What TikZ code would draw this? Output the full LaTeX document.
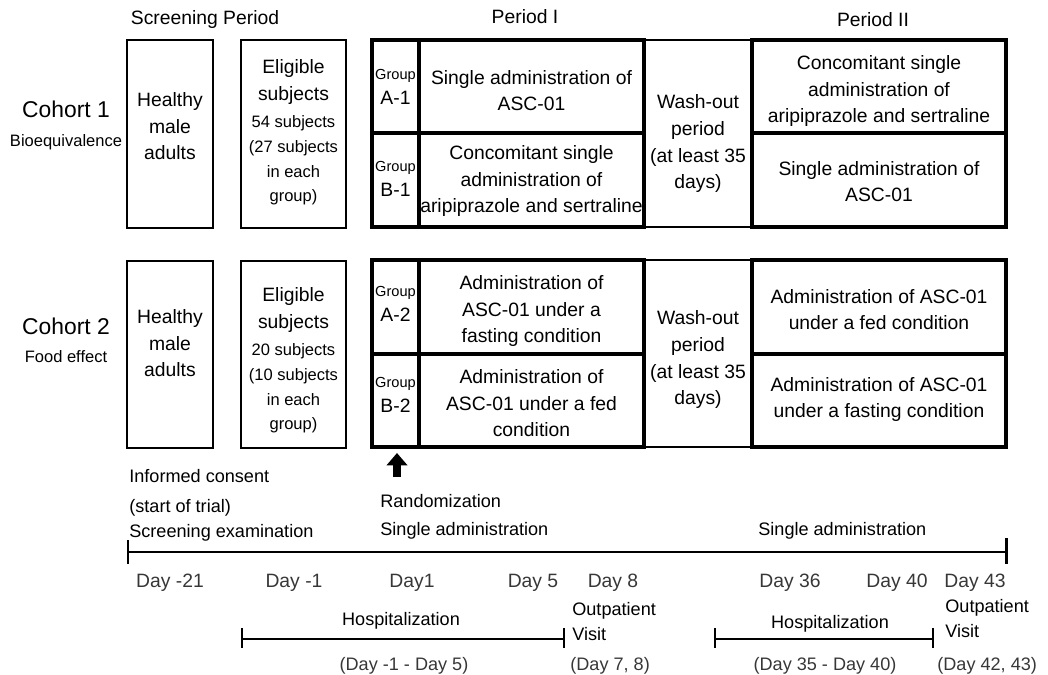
\documentclass[tikz,border=0pt]{standalone}
\usepackage{fontspec}
\setmainfont{Liberation Sans}
\usetikzlibrary{fit}
\usetikzlibrary{arrows.meta}
\definecolor{ColLine}{RGB}{0,0,0}
\definecolor{ColDay}{RGB}{55,55,55}
\newcommand{\FontMain}{\fontsize{11}{15.3}\selectfont}
\newcommand{\FontLow}{\fontsize{10.3}{14}\selectfont}
\newcommand{\FontSmall}{\fontsize{9.4}{14}\selectfont}
\newcommand{\FontTiny}{\fontsize{8.3}{10}\selectfont}
\newcommand{\FontCohort}{\fontsize{13}{15}\selectfont}
\tikzstyle{BoxThin}=[draw=ColLine,line width=0.85pt,inner sep=0pt]
\tikzstyle{BoxThick}=[BoxThin,line width=1.8pt]
\tikzstyle{BoxText}=[inner sep=0pt,align=center,font=\FontMain,anchor=base]
\tikzstyle{TextLab}=[inner sep=0pt,font=\FontMain]
\tikzstyle{LowLab}=[inner sep=0pt,font=\FontLow,anchor=base west]
\tikzstyle{DayLab}=[TextLab,anchor=base,text=ColDay]
\tikzstyle{AxisLine}=[draw=ColLine,line width=1.7pt]
\tikzstyle{BarLine}=[draw=ColLine,line width=0.85pt]

\begin{document}
\begin{tikzpicture}[x=0.02cm,y=-0.02cm]
    \useasboundingbox (0,0) rectangle (1048,675);
    % period titles
    \node[TextLab,anchor=base](ScrPer)at(205,25){Screening Period};
    \node[TextLab,anchor=base](PerOne)at(525,24){Period I};
    \node[TextLab,anchor=base](PerTwo)at(873,27){Period II};
    % cohort 1
    \node[TextLab,anchor=base,font=\FontCohort](CohA)at(66,118){Cohort 1};
    \node[TextLab,anchor=base,font=\FontSmall](CohADesc)at(66,147){Bioequivalence};
    \node[BoxThin,fit={(127,40)(213,228)}](HealthyA){};
    \node[BoxThin,fit={(241,40)(346,228)}](EligA){};
    \node[BoxThin,fit={(644,40)(752,227)}](WashA){};
    \node[BoxThick,fit={(372,40)(419,133)}](GrpA1){};
    \node[BoxThick,fit={(419,40)(644,133)}](TrtA1){};
    \node[BoxThick,fit={(372,133)(419,227)}](GrpB1){};
    \node[BoxThick,fit={(419,133)(644,227)}](TrtB1){};
    \node[BoxThick,fit={(752,40)(1006,133)}](PerA1){};
    \node[BoxThick,fit={(752,133)(1006,227)}](PerB1){};
    % (base = last line)
    \node[BoxText](HealthyATxt)at(170,160){Healthy\\male\\adults};
    \node[BoxText](EligATxt)at(293.5,202){Eligible\\subjects\\{\FontSmall 54 subjects}\\[-1.2pt]{\FontSmall (27 subjects}\\[-1.2pt]{\FontSmall in each}\\[-1.2pt]{\FontSmall group)}};
    \node[BoxText](WashATxt)at(698,189){Wash-out\\period\\(at least 35\\days)};
    \node[BoxText](GrpA1Txt)at(395.5,105){{\FontTiny Group}\\[-0.6pt]A-1};
    \node[BoxText](GrpB1Txt)at(395.5,197){{\FontTiny Group}\\[-0.6pt]B-1};
    \node[BoxText](TrtA1Txt)at(531.5,111){Single administration of\\ASC-01};
    \node[BoxText](TrtB1Txt)at(531.5,213){Concomitant single\\administration of\\aripiprazole and sertraline};
    \node[BoxText](PerA1Txt)at(879,123){Concomitant single\\administration of\\aripiprazole and sertraline};
    \node[BoxText](PerB1Txt)at(879,202){Single administration of\\ASC-01};
    % cohort 2
    \node[TextLab,anchor=base,font=\FontCohort](CohB)at(66,335){Cohort 2};
    \node[TextLab,anchor=base,font=\FontSmall](CohBDesc)at(66,363){Food effect};
    \node[BoxThin,fit={(127,261)(213,448)}](HealthyB){};
    \node[BoxThin,fit={(241,261)(346,448)}](EligB){};
    \node[BoxThin,fit={(644,260)(752,447)}](WashB){};
    \node[BoxThick,fit={(372,260)(419,354)}](GrpA2){};
    \node[BoxThick,fit={(419,260)(644,354)}](TrtA2){};
    \node[BoxThick,fit={(372,354)(419,447)}](GrpB2){};
    \node[BoxThick,fit={(419,354)(644,447)}](TrtB2){};
    \node[BoxThick,fit={(752,260)(1006,354)}](PerA2){};
    \node[BoxThick,fit={(752,354)(1006,447)}](PerB2){};
    \node[BoxText](HealthyBTxt)at(170,377){Healthy\\male\\adults};
    \node[BoxText](EligBTxt)at(293.5,430){Eligible\\subjects\\{\FontSmall 20 subjects}\\[-1.2pt]{\FontSmall (10 subjects}\\[-1.2pt]{\FontSmall in each}\\[-1.2pt]{\FontSmall group)}};
    \node[BoxText](WashBTxt)at(698,405){Wash-out\\period\\(at least 35\\days)};
    \node[BoxText](GrpA2Txt)at(395.5,322){{\FontTiny Group}\\[-0.6pt]A-2};
    \node[BoxText](GrpB2Txt)at(395.5,413){{\FontTiny Group}\\[-0.6pt]B-2};
    \node[BoxText](TrtA2Txt)at(531.5,343){Administration of\\ASC-01 under a\\fasting condition};
    \node[BoxText](TrtB2Txt)at(531.5,437){Administration of\\ASC-01 under a fed\\condition};
    \node[BoxText](PerA2Txt)at(879,330){Administration of ASC-01\\under a fed condition};
    \node[BoxText](PerB2Txt)at(879,418){Administration of ASC-01\\under a fasting condition};
    % randomization arrow
    \coordinate(ArrBot)at(397,477);
    \coordinate(ArrTop)at(397,453);
    \draw[line width=4.5pt,-{Triangle[width=11.5pt,length=7pt]}](ArrBot)--(ArrTop);
    % events
    \node[LowLab](Consent)at(129,482){Informed consent};
    \node[LowLab](StartTrial)at(129,512){(start of trial)};
    \node[LowLab](ScrExam)at(129,537){Screening examination};
    \node[LowLab](Random)at(380,507){Randomization};
    \node[LowLab](SingleA)at(380,535){Single administration};
    \node[LowLab](SingleB)at(758,535){Single administration};
    % time axis
    \coordinate(AxL)at(128,552);
    \coordinate(AxR)at(1006,552);
    \draw[AxisLine](AxL)--(AxR);
    \draw[AxisLine](AxL)++(0,-12)--++(0,24);
    \draw[AxisLine](AxR)++(0,-14)--++(0,26);
    \node[DayLab](DayM21)at(170,587){Day -21};
    \node[DayLab](DayM1)at(294,587){Day -1};
    \node[DayLab](DayP1)at(412,587){Day1};
    \node[DayLab](DayP5)at(533,587){Day 5};
    \node[DayLab](DayP8)at(613,587){Day 8};
    \node[DayLab](DayP36)at(790,587){Day 36};
    \node[DayLab](DayP40)at(897,587){Day 40};
    \node[DayLab](DayP43)at(975,587){Day 43};
    % hospitalization 1
    \coordinate(HospAL)at(242,639);
    \coordinate(HospAR)at(564,639);
    \draw[BarLine](HospAL)--(HospAR);
    \draw[BarLine](HospAL)++(0,-11)--++(0,20);
    \draw[BarLine](HospAR)++(0,-11)--++(0,20);
    \node[LowLab,anchor=base](HospA)at(401,625){Hospitalization};
    \node[LowLab,anchor=base,text=ColDay](HospADays)at(404,670){(Day -1 - Day 5)};
    \node[LowLab](OutA)at(572,615){Outpatient};
    \node[LowLab](VisitA)at(572,640){Visit};
    \node[LowLab,text=ColDay](OutADays)at(570,670){(Day 7, 8)};
    % hospitalization 2
    \coordinate(HospBL)at(715,639);
    \coordinate(HospBR)at(933,639);
    \draw[BarLine](HospBL)--(HospBR);
    \draw[BarLine](HospBL)++(0,-11)--++(0,20);
    \draw[BarLine](HospBR)++(0,-11)--++(0,20);
    \node[LowLab,anchor=base](HospB)at(830,628){Hospitalization};
    \node[LowLab,anchor=base,text=ColDay](HospBDays)at(825,670){(Day 35 - Day 40)};
    \node[LowLab](OutB)at(945,612){Outpatient};
    \node[LowLab](VisitB)at(945,637){Visit};
    \node[LowLab,text=ColDay](OutBDays)at(937,670){(Day 42, 43)};
\end{tikzpicture}
\end{document}
